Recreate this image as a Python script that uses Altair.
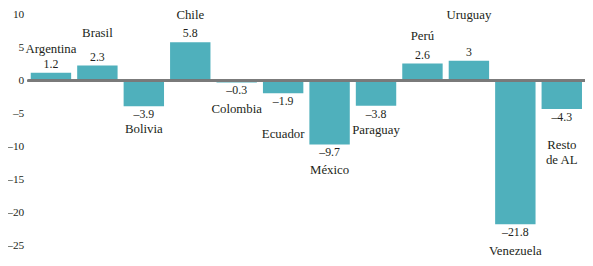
import altair as alt
import pandas as pd

countries = ["Argentina", "Brasil", "Bolivia", "Chile", "Colombia", "Ecuador",
             "México", "Paraguay", "Perú", "Uruguay", "Venezuela", "Resto\nde AL"]
values = [1.2, 2.3, -3.9, 5.8, -0.3, -1.9, -9.7, -3.8, 2.6, 3.0, -21.8, -4.3]
# vertical placement of each country name, in data units
name_y = [4.8, 7.2, -7.3, 10.0, -4.3, -8.1, -13.6, -7.5, 6.7, 10.0, -25.8, -9.8]
y_ticks = [-25, -20, -15, -10, -5, 0, 5, 10]

def fmt(v):
    s = f"{v:g}"
    return s.replace("-", "\u2013")

df = pd.DataFrame({
    "country": countries,
    "value": values,
    "name_y": name_y,
    "label": [fmt(v) for v in values],
})

FONT = "Liberation Serif"
TEXT = "#231f20"
W, H = 565, 234

x = alt.X("country:N", sort=countries, axis=None,
          scale=alt.Scale(paddingInner=0.13, paddingOuter=0.065))
yscale = alt.Scale(domain=[-25, 10], nice=False, zero=False)
yaxis = alt.Axis(values=y_ticks, title=None, domain=False, ticks=False,
                 grid=False, labelFont=FONT, labelFontSize=11.5,
                 labelColor=TEXT, labelPadding=4, labelOverlap=False,
                 labelFlush=False,
                 labelExpr="datum.value < 0 ? '\u2013' + format(-datum.value, 'd') : datum.label")

bars = alt.Chart(df).mark_bar(color="#4fb0bc").encode(
    x=x,
    y=alt.Y("value:Q", scale=yscale, axis=yaxis),
    y2=alt.datum(0),
)

zero = alt.Chart(df).mark_rule(color="#7a7a7a", strokeWidth=1.8).encode(
    x=alt.value(0), x2=alt.value(W), y=alt.Y(datum=0, scale=yscale, axis=yaxis)
)

pos_lab = alt.Chart(df).transform_filter("datum.value >= 0").mark_text(
    font=FONT, fontSize=12, color=TEXT, baseline="bottom", dy=-2
).encode(x=x, y=alt.Y("value:Q", scale=yscale, axis=yaxis), text="label:N")

neg_lab = alt.Chart(df).transform_filter("datum.value < 0").mark_text(
    font=FONT, fontSize=12, color=TEXT, baseline="top", dy=3
).encode(x=x, y=alt.Y("value:Q", scale=yscale, axis=yaxis), text="label:N")

names = alt.Chart(df).mark_text(
    font=FONT, fontSize=13, color=TEXT, baseline="middle", lineBreak="\n", lineHeight=15
).encode(x=x, y=alt.Y("name_y:Q", scale=yscale, axis=yaxis), text="country:N")

chart = alt.layer(bars, zero, pos_lab, neg_lab, names).properties(
    width=W, height=H,
    autosize=alt.AutoSizeParams(type="none"),
    padding={"left": 20, "top": 5, "right": 0, "bottom": 16},
).configure_view(stroke=None).configure_axis(labelOverlap=False)

chart.save("out.html", embed_options={"renderer": "svg", "actions": False})
